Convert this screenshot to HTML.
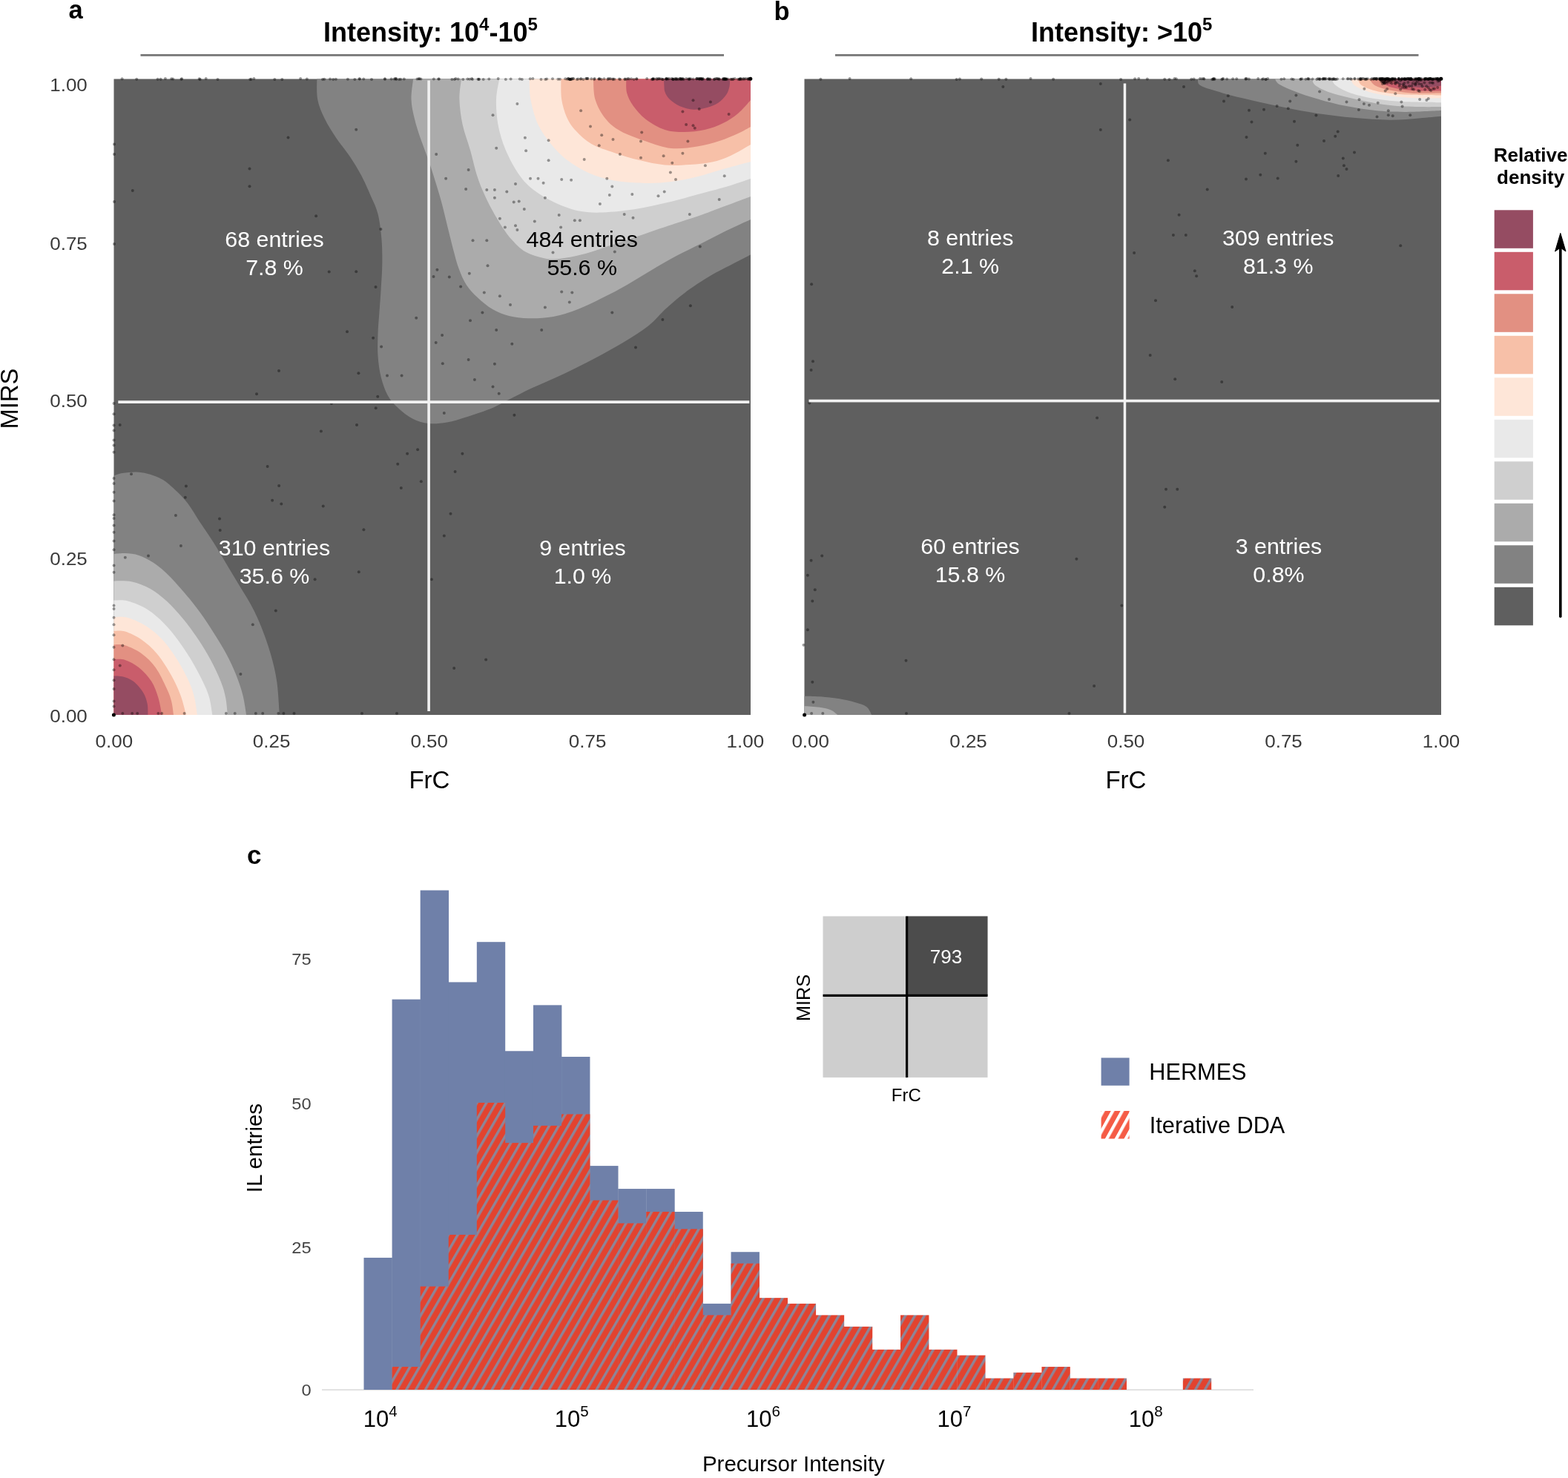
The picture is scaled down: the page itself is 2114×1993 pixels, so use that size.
<!DOCTYPE html>
<html><head><meta charset="utf-8"><title>Figure</title>
<style>html,body{margin:0;padding:0;background:#fff;}svg{display:block;}
text{font-family:'Liberation Sans',Arial,Helvetica,sans-serif;}</style></head>
<body><svg width="2114" height="1993" viewBox="0 0 2114 1993">
<defs>
<pattern id="hatch" patternUnits="userSpaceOnUse" width="11.1" height="11.1" patternTransform="rotate(30)">
<rect width="11.1" height="11.1" fill="#e2432f"/><rect x="0" width="3.4" height="11.1" fill="#8e8597"/>
</pattern>
<pattern id="hatchleg" patternUnits="userSpaceOnUse" width="11.2" height="11.2" patternTransform="translate(1485,1498) rotate(29)">
<rect width="11.2" height="11.2" fill="#f55c46"/><rect x="0" width="4.2" height="11.2" fill="#fff"/>
</pattern>
</defs>
<rect width="2114" height="1993" fill="#fff"/>
<rect x="153.5" y="106.5" width="858.5" height="857.5" fill="#5f5f5f"/>
<path d="M427.3,106.5 C427.4,111.1 426.5,125.3 428.2,134.2 C429.9,143.1 433.5,151.3 437.6,159.8 C441.7,168.3 447.2,176.9 452.9,185.4 C458.6,193.9 466.0,202.5 471.7,211.0 C477.4,219.5 482.6,228.1 487.1,236.6 C491.7,245.1 495.3,253.7 499.0,262.2 C502.7,270.7 506.7,277.8 509.3,287.8 C511.9,297.8 513.4,310.6 514.4,322.0 C515.4,333.4 515.4,344.7 515.3,356.1 C515.2,367.5 514.2,379.7 513.6,390.3 C513.0,400.9 512.2,410.1 511.5,420.0 C510.8,429.9 509.8,440.0 509.5,450.0 C509.2,460.0 508.8,470.2 509.5,480.0 C510.2,489.8 511.5,500.0 513.8,509.0 C516.1,518.0 519.3,527.1 523.2,534.0 C527.1,540.9 531.6,545.3 537.2,550.5 C542.8,555.7 550.2,561.6 557.0,565.0 C563.8,568.4 570.2,570.2 577.8,571.0 C585.4,571.8 594.0,571.0 602.7,569.5 C611.4,568.0 619.8,565.3 630.0,562.0 C640.2,558.7 654.7,553.8 664.1,549.9 C673.5,546.0 677.4,543.2 686.2,538.8 C695.1,534.4 705.4,528.8 717.2,523.3 C729.0,517.8 743.1,512.2 757.1,505.6 C771.1,499.0 787.3,490.9 801.3,483.5 C815.3,476.1 829.0,468.7 841.2,461.3 C853.4,453.9 864.9,446.8 874.4,439.2 C883.9,431.6 889.9,423.4 898.0,416.0 C906.1,408.6 913.4,402.1 923.1,394.9 C932.8,387.7 945.2,379.4 956.3,372.8 C967.4,366.2 980.2,360.0 989.5,355.1 C998.8,350.2 1008.2,345.4 1012.0,343.5 L1012.0,106.5 Z" fill="#828282"/>
<path d="M557.1,106.5 C556.7,111.1 554.2,125.3 554.5,134.2 C554.8,143.1 556.8,151.3 558.8,159.8 C560.8,168.3 563.6,176.9 566.5,185.4 C569.4,193.9 572.9,202.5 575.9,211.0 C578.9,219.5 581.3,226.6 584.4,236.6 C587.5,246.6 591.6,259.4 594.7,270.8 C597.8,282.2 600.5,293.9 603.2,304.9 C606.0,315.9 608.7,327.5 611.2,337.0 C613.8,346.5 615.6,354.2 618.5,362.0 C621.4,369.8 624.4,377.3 628.7,383.9 C633.0,390.5 638.3,396.1 644.2,401.6 C650.1,407.1 657.1,413.1 664.1,417.1 C671.1,421.2 678.1,423.9 686.2,425.9 C694.3,427.9 702.8,429.0 712.8,429.2 C722.8,429.4 734.9,429.0 746.0,427.0 C757.1,425.0 768.1,421.3 779.2,417.1 C790.3,412.9 801.3,407.1 812.4,401.6 C823.5,396.1 834.5,390.2 845.6,383.9 C856.7,377.6 867.7,370.5 878.8,364.0 C889.9,357.5 900.9,350.9 912.0,345.0 C923.1,339.1 934.1,334.1 945.2,328.5 C956.3,322.9 967.3,316.9 978.4,311.5 C989.5,306.1 1006.4,298.6 1012.0,296.0 L1012.0,106.5 Z" fill="#ababab"/>
<path d="M622.0,106.5 C621.6,111.1 619.1,123.9 619.4,134.2 C619.7,144.5 621.3,156.9 623.7,168.3 C626.1,179.7 630.7,190.9 634.0,202.5 C637.3,214.1 640.3,228.1 643.5,238.0 C646.7,247.9 649.6,254.3 653.0,262.0 C656.4,269.7 660.0,276.9 664.1,284.3 C668.2,291.7 673.0,299.8 677.4,306.4 C681.8,313.0 685.5,318.6 690.7,324.1 C695.9,329.6 701.0,335.5 708.4,339.6 C715.8,343.7 726.8,347.0 734.9,348.5 C743.0,350.0 747.9,349.6 757.1,348.5 C766.3,347.4 779.2,344.8 790.3,341.8 C801.4,338.8 812.4,334.4 823.5,330.7 C834.6,327.0 843.8,324.1 856.7,319.7 C869.6,315.3 886.1,309.4 900.9,304.5 C915.6,299.6 932.3,294.5 945.2,290.0 C958.1,285.5 967.3,281.8 978.4,277.6 C989.5,273.4 1006.4,267.1 1012.0,265.0 L1012.0,106.5 Z" fill="#cfcfcf"/>
<path d="M673.2,106.5 C672.5,111.1 669.3,123.9 669.0,134.2 C668.7,144.5 669.4,156.9 671.5,168.3 C673.6,179.7 677.0,191.1 681.8,202.5 C686.6,213.9 694.1,227.6 700.5,236.6 C706.9,245.6 712.0,250.4 720.0,256.5 C728.0,262.6 738.3,268.6 748.2,273.2 C758.1,277.8 768.5,282.1 779.2,284.3 C789.9,286.5 799.5,286.9 812.4,286.5 C825.3,286.1 842.0,284.4 856.7,282.1 C871.5,279.8 886.1,276.3 900.9,272.8 C915.6,269.3 932.3,264.5 945.2,261.0 C958.1,257.5 967.3,255.3 978.4,252.0 C989.5,248.7 1006.4,242.8 1012.0,241.0 L1012.0,106.5 Z" fill="#e9e9e9"/>
<path d="M713.7,106.5 C714.0,111.1 713.4,123.9 715.4,134.2 C717.4,144.5 721.0,158.4 725.6,168.3 C730.2,178.2 736.2,185.9 742.7,193.9 C749.2,201.9 756.4,209.6 764.9,216.1 C773.4,222.6 783.4,228.6 793.9,233.2 C804.4,237.8 815.3,241.1 828.1,243.4 C840.9,245.7 858.0,246.6 870.8,246.9 C883.6,247.2 893.5,246.4 904.9,245.0 C916.3,243.6 928.1,241.1 939.0,238.5 C949.9,235.9 957.8,232.9 970.0,229.5 C982.2,226.1 1005.0,219.9 1012.0,218.0 L1012.0,106.5 Z" fill="#fee6d8"/>
<path d="M756.4,106.5 C756.5,111.1 755.8,125.3 757.2,134.2 C758.6,143.1 761.6,152.7 764.9,159.8 C768.2,166.9 771.4,171.1 776.8,176.8 C782.2,182.5 788.8,189.1 797.3,193.9 C805.8,198.8 817.3,202.2 828.1,205.9 C838.9,209.6 850.8,213.3 862.2,216.1 C873.6,218.9 885.1,221.5 896.4,222.5 C907.7,223.5 919.4,222.7 930.0,222.0 C940.6,221.3 950.8,220.5 960.0,218.5 C969.2,216.5 976.3,213.9 985.0,210.0 C993.7,206.1 1007.5,197.5 1012.0,195.0 L1012.0,106.5 Z" fill="#f7c0a8"/>
<path d="M799.9,106.5 C800.3,111.1 799.8,125.3 802.5,134.2 C805.2,143.1 810.4,152.7 816.1,159.8 C821.8,166.9 827.5,171.7 836.6,176.8 C845.7,181.9 859.4,186.6 870.8,190.5 C882.2,194.4 893.4,198.8 904.9,200.0 C916.4,201.2 929.1,199.2 940.0,197.5 C950.9,195.8 960.8,192.9 970.0,190.0 C979.2,187.1 988.0,183.2 995.0,180.0 C1002.0,176.8 1009.2,172.5 1012.0,171.0 L1012.0,106.5 Z" fill="#e29082"/>
<path d="M844.3,106.5 C844.4,109.7 843.6,119.6 845.2,125.6 C846.8,131.6 849.4,136.8 853.7,142.7 C858.0,148.6 863.7,155.6 870.8,161.0 C877.9,166.4 887.9,172.2 896.4,175.0 C904.9,177.8 913.1,178.0 922.0,178.0 C930.9,178.0 941.2,177.0 950.0,175.0 C958.8,173.0 967.5,169.7 975.0,166.0 C982.5,162.3 988.8,158.2 995.0,153.0 C1001.2,147.8 1009.2,138.0 1012.0,135.0 L1012.0,106.5 Z" fill="#c95d6b"/>
<path d="M895.1,106.5 C895.1,107.9 895.2,112.1 895.4,115.0 C895.6,117.9 895.3,120.9 896.5,124.0 C897.7,127.1 899.3,130.6 902.7,133.8 C906.1,137.0 911.4,141.0 916.8,143.3 C922.2,145.6 929.0,147.4 935.1,147.7 C941.2,148.0 947.9,146.5 953.5,145.0 C959.1,143.5 964.3,141.4 968.6,138.5 C972.9,135.6 976.8,131.3 979.3,127.6 C981.8,123.8 982.9,119.5 983.6,116.0 C984.4,112.5 983.8,108.1 983.8,106.5 Z" fill="#954c62"/>
<path d="M153.5,641.5 C155.4,640.9 160.0,638.8 165.0,638.0 C170.0,637.2 178.0,636.4 183.6,636.5 C189.2,636.6 193.4,637.4 198.6,638.7 C203.8,640.0 210.0,642.0 215.0,644.5 C220.0,647.0 222.4,648.4 228.4,653.6 C234.4,658.9 244.1,667.6 250.9,676.0 C257.8,684.4 263.3,694.6 269.5,704.0 C275.7,713.4 282.3,722.8 288.2,732.1 C294.1,741.5 299.4,750.8 305.0,760.1 C310.6,769.4 316.2,778.8 321.8,788.1 C327.4,797.4 333.6,806.8 338.6,816.1 C343.6,825.4 347.3,833.2 351.7,844.1 C356.1,855.0 361.2,869.0 364.8,881.5 C368.4,894.0 371.2,905.0 373.2,918.8 C375.2,932.5 376.3,956.5 376.9,964.0 L153.5,964.0 Z" fill="#828282"/>
<path d="M153.5,747.0 C156.0,746.9 163.0,745.8 168.7,746.1 C174.3,746.4 181.2,746.9 187.4,748.9 C193.6,750.9 199.8,754.2 206.0,758.2 C212.2,762.2 217.8,766.7 224.7,773.2 C231.5,779.7 239.6,788.7 247.1,797.4 C254.6,806.1 262.6,816.1 269.5,825.5 C276.4,834.9 282.3,844.2 288.2,853.5 C294.1,862.8 300.0,872.2 305.0,881.5 C310.0,890.8 314.4,900.2 318.1,909.5 C321.8,918.8 325.1,928.4 327.4,937.5 C329.7,946.6 331.3,959.6 332.1,964.0 L153.5,964.0 Z" fill="#ababab"/>
<path d="M153.5,783.4 C157.6,783.6 169.9,782.7 178.0,784.4 C186.1,786.1 194.5,789.4 202.3,793.7 C210.1,798.1 217.2,803.6 224.7,810.5 C232.2,817.4 239.9,826.1 247.1,834.8 C254.3,843.5 261.5,853.5 267.7,862.8 C273.9,872.1 279.5,881.5 284.5,890.8 C289.5,900.1 294.4,910.6 297.6,918.8 C300.9,927.0 302.4,932.5 304.0,940.0 C305.6,947.5 306.4,960.0 306.9,964.0 L153.5,964.0 Z" fill="#cfcfcf"/>
<path d="M153.5,809.6 C156.7,809.8 164.9,808.5 172.4,810.5 C179.9,812.5 190.5,816.7 198.6,821.7 C206.7,826.7 214.2,833.5 221.0,840.4 C227.8,847.2 233.5,854.4 239.7,862.8 C245.9,871.2 252.7,881.5 258.3,890.8 C263.9,900.1 269.4,910.6 273.3,918.8 C277.2,927.0 279.8,932.5 282.0,940.0 C284.2,947.5 285.6,960.0 286.3,964.0 L153.5,964.0 Z" fill="#e9e9e9"/>
<path d="M153.5,832.0 C156.7,832.1 165.2,830.9 172.4,832.9 C179.6,834.9 188.9,839.1 196.7,844.1 C204.5,849.1 211.9,855.0 219.1,862.8 C226.3,870.6 233.8,881.5 239.7,890.8 C245.6,900.1 250.9,910.6 254.6,918.8 C258.3,927.0 260.1,932.5 262.0,940.0 C263.9,947.5 265.2,960.0 265.8,964.0 L153.5,964.0 Z" fill="#fee6d8"/>
<path d="M153.5,850.7 C156.0,850.9 162.4,849.6 168.7,851.6 C175.0,853.6 183.9,857.8 191.1,862.8 C198.2,867.8 205.1,873.7 211.6,881.5 C218.1,889.3 225.0,900.2 230.3,909.5 C235.6,918.8 240.0,928.4 243.4,937.5 C246.8,946.6 249.7,959.6 250.9,964.0 L153.5,964.0 Z" fill="#f7c0a8"/>
<path d="M153.5,869.3 C156.0,869.5 162.4,868.3 168.7,870.3 C175.0,872.3 184.2,876.5 191.1,881.5 C197.9,886.5 204.2,892.4 209.8,900.2 C215.4,908.0 221.2,920.7 224.7,928.2 C228.2,935.7 229.4,939.0 231.0,945.0 C232.6,951.0 233.5,960.8 234.0,964.0 L153.5,964.0 Z" fill="#e29082"/>
<path d="M153.5,889.0 C156.0,889.1 163.0,888.0 168.7,889.9 C174.3,891.8 181.5,895.4 187.4,900.2 C193.3,905.0 199.8,911.9 204.2,918.8 C208.5,925.6 211.2,933.8 213.5,941.3 C215.8,948.8 217.4,960.2 218.2,964.0 L153.5,964.0 Z" fill="#c95d6b"/>
<path d="M153.5,911.4 C155.4,911.5 160.6,911.1 165.0,912.3 C169.4,913.5 175.2,915.2 179.9,918.8 C184.6,922.4 189.9,928.8 193.0,933.8 C196.1,938.8 197.5,943.7 198.6,948.7 C199.7,953.7 199.3,961.5 199.5,964.0 L153.5,964.0 Z" fill="#954c62"/>
<rect x="1084.5" y="106.5" width="858.5" height="857.5" fill="#5f5f5f"/>
<path d="M1614.9,106.5 C1615.6,108.0 1613.3,112.4 1618.9,115.6 C1624.5,118.8 1636.9,122.1 1648.3,125.4 C1659.7,128.7 1673.5,131.9 1687.5,135.2 C1701.5,138.5 1717.9,142.1 1732.6,145.0 C1747.3,147.9 1760.4,150.6 1775.8,152.9 C1791.2,155.2 1808.6,157.3 1824.9,158.8 C1841.2,160.3 1859.2,161.6 1873.9,161.7 C1888.6,161.8 1901.7,160.3 1913.2,159.5 C1924.7,158.7 1938.0,157.2 1943.0,156.8 L1943.0,106.5 Z" fill="#828282"/>
<path d="M1718.9,106.5 C1719.9,107.7 1720.2,110.9 1724.8,113.7 C1729.4,116.5 1737.9,120.2 1746.4,123.5 C1754.9,126.8 1764.3,130.0 1775.8,133.3 C1787.2,136.6 1802.0,140.5 1815.1,143.1 C1828.2,145.7 1841.2,147.7 1854.3,149.0 C1867.4,150.3 1878.7,150.9 1893.5,150.9 C1908.3,150.9 1934.8,149.3 1943.0,149.0 L1943.0,106.5 Z" fill="#ababab"/>
<path d="M1769.0,106.5 C1769.8,108.0 1769.5,112.4 1773.9,115.6 C1778.3,118.8 1785.3,122.1 1795.4,125.4 C1805.5,128.7 1821.6,132.4 1834.7,135.2 C1847.8,138.0 1860.8,140.6 1873.9,142.1 C1887.0,143.6 1901.7,143.8 1913.2,144.1 C1924.7,144.4 1938.0,144.1 1943.0,144.1 L1943.0,106.5 Z" fill="#cfcfcf"/>
<path d="M1795.4,106.5 C1796.4,108.0 1797.0,112.4 1801.3,115.6 C1805.5,118.8 1812.1,122.5 1820.9,125.4 C1829.7,128.4 1842.2,131.3 1854.3,133.3 C1866.4,135.3 1878.7,136.4 1893.5,137.2 C1908.3,138.0 1934.8,138.0 1943.0,138.2 L1943.0,106.5 Z" fill="#e9e9e9"/>
<path d="M1820.9,106.5 C1821.9,108.0 1822.9,112.8 1826.8,115.6 C1830.7,118.4 1836.7,121.2 1844.5,123.5 C1852.3,125.8 1862.5,127.9 1873.9,129.4 C1885.4,130.9 1901.7,131.8 1913.2,132.3 C1924.7,132.8 1938.0,132.3 1943.0,132.3 L1943.0,106.5 Z" fill="#fee6d8"/>
<path d="M1830.7,106.5 C1831.7,108.0 1832.0,112.8 1836.6,115.6 C1841.2,118.4 1848.7,121.5 1858.2,123.5 C1867.7,125.5 1879.4,126.6 1893.5,127.4 C1907.6,128.2 1934.8,128.2 1943.0,128.4 L1943.0,106.5 Z" fill="#f7c0a8"/>
<path d="M1846.4,106.5 C1847.7,108.0 1849.7,113.1 1854.3,115.6 C1858.9,118.1 1865.7,119.9 1873.9,121.5 C1882.1,123.1 1891.8,124.8 1903.3,125.4 C1914.8,126.1 1936.4,125.4 1943.0,125.4 L1943.0,106.5 Z" fill="#e29082"/>
<path d="M1860.2,106.5 C1861.2,107.7 1862.2,111.5 1866.1,113.7 C1870.0,115.9 1875.8,118.0 1883.7,119.5 C1891.6,121.0 1903.3,122.0 1913.2,122.5 C1923.1,123.0 1938.0,122.5 1943.0,122.5 L1943.0,106.5 Z" fill="#c95d6b"/>
<path d="M1877.8,106.5 C1879.1,107.7 1881.5,111.9 1885.7,113.7 C1890.0,115.5 1896.1,116.9 1903.3,117.6 C1910.5,118.2 1922.3,117.9 1928.9,117.6 C1935.5,117.3 1940.7,115.9 1943.0,115.6 L1943.0,106.5 Z" fill="#954c62"/>
<path d="M1084.5,938.7 C1088.0,938.8 1096.7,938.6 1105.2,939.3 C1113.7,940.0 1127.4,941.6 1135.4,942.9 C1143.5,944.2 1148.0,945.5 1153.5,947.2 C1159.0,948.9 1164.9,950.4 1168.5,953.2 C1172.1,956.0 1174.1,962.2 1175.2,964.0 L1084.5,964.0 Z" fill="#828282"/>
<path d="M1084.5,952.0 C1088.0,952.3 1099.2,952.9 1105.2,953.8 C1111.2,954.7 1116.3,955.7 1120.3,957.4 C1124.3,959.1 1127.8,962.9 1129.3,964.0 L1084.5,964.0 Z" fill="#ababab"/>
<g fill="#000" fill-opacity="0.38">
<circle cx="388.5" cy="185.6" r="2.0"/>
<circle cx="336.5" cy="227.6" r="2.0"/>
<circle cx="336.5" cy="251.3" r="2.0"/>
<circle cx="178.8" cy="256.9" r="2.0"/>
<circle cx="426.1" cy="291.3" r="2.0"/>
<circle cx="443.7" cy="366.5" r="2.0"/>
<circle cx="154.0" cy="194.4" r="2.0"/>
<circle cx="154.0" cy="208.1" r="2.0"/>
<circle cx="154.0" cy="272.1" r="2.0"/>
<circle cx="154.0" cy="328.9" r="2.0"/>
<circle cx="480.2" cy="174.8" r="2.0"/>
<circle cx="513.4" cy="309.1" r="2.0"/>
<circle cx="480.2" cy="366.3" r="2.0"/>
<circle cx="506.5" cy="387.1" r="2.0"/>
<circle cx="561.2" cy="428.8" r="2.0"/>
<circle cx="468.0" cy="447.2" r="2.0"/>
<circle cx="503.1" cy="455.8" r="2.0"/>
<circle cx="514.1" cy="467.4" r="2.0"/>
<circle cx="376.0" cy="500.0" r="2.0"/>
<circle cx="483.4" cy="503.2" r="2.0"/>
<circle cx="522.0" cy="506.6" r="2.0"/>
<circle cx="541.6" cy="506.6" r="2.0"/>
<circle cx="509.2" cy="534.8" r="2.0"/>
<circle cx="506.7" cy="550.3" r="2.0"/>
<circle cx="588.2" cy="208.0" r="2.0"/>
<circle cx="589.4" cy="363.8" r="2.0"/>
<circle cx="584.5" cy="372.9" r="2.0"/>
<circle cx="596.1" cy="452.1" r="2.0"/>
<circle cx="587.7" cy="462.0" r="2.0"/>
<circle cx="596.8" cy="490.2" r="2.0"/>
<circle cx="697.4" cy="139.9" r="2.0"/>
<circle cx="664.5" cy="155.2" r="2.0"/>
<circle cx="783.1" cy="149.3" r="2.0"/>
<circle cx="796.0" cy="170.4" r="2.0"/>
<circle cx="934.5" cy="135.2" r="2.0"/>
<circle cx="957.9" cy="137.6" r="2.0"/>
<circle cx="920.4" cy="150.5" r="2.0"/>
<circle cx="942.7" cy="146.9" r="2.0"/>
<circle cx="982.6" cy="154.0" r="2.0"/>
<circle cx="925.1" cy="168.1" r="2.0"/>
<circle cx="934.5" cy="169.2" r="2.0"/>
<circle cx="936.8" cy="172.8" r="2.0"/>
<circle cx="865.2" cy="178.6" r="2.0"/>
<circle cx="811.2" cy="182.2" r="2.0"/>
<circle cx="826.5" cy="188.0" r="2.0"/>
<circle cx="739.6" cy="189.2" r="2.0"/>
<circle cx="707.9" cy="185.7" r="2.0"/>
<circle cx="864.0" cy="190.4" r="2.0"/>
<circle cx="927.4" cy="190.4" r="2.0"/>
<circle cx="807.7" cy="196.2" r="2.0"/>
<circle cx="669.2" cy="199.8" r="2.0"/>
<circle cx="709.1" cy="203.3" r="2.0"/>
<circle cx="835.9" cy="208.0" r="2.0"/>
<circle cx="920.4" cy="206.8" r="2.0"/>
<circle cx="864.0" cy="212.7" r="2.0"/>
<circle cx="787.7" cy="215.0" r="2.0"/>
<circle cx="894.6" cy="210.3" r="2.0"/>
<circle cx="906.3" cy="219.7" r="2.0"/>
<circle cx="950.9" cy="223.2" r="2.0"/>
<circle cx="739.6" cy="216.2" r="2.0"/>
<circle cx="631.6" cy="229.1" r="2.0"/>
<circle cx="601.1" cy="240.8" r="2.0"/>
<circle cx="715.0" cy="240.8" r="2.0"/>
<circle cx="725.5" cy="240.8" r="2.0"/>
<circle cx="732.6" cy="246.7" r="2.0"/>
<circle cx="757.2" cy="242.0" r="2.0"/>
<circle cx="770.1" cy="242.7" r="2.0"/>
<circle cx="818.3" cy="240.8" r="2.0"/>
<circle cx="903.9" cy="232.6" r="2.0"/>
<circle cx="911.0" cy="242.0" r="2.0"/>
<circle cx="976.7" cy="237.3" r="2.0"/>
<circle cx="695.0" cy="247.9" r="2.0"/>
<circle cx="628.1" cy="254.9" r="2.0"/>
<circle cx="656.3" cy="256.1" r="2.0"/>
<circle cx="666.9" cy="256.1" r="2.0"/>
<circle cx="683.3" cy="258.5" r="2.0"/>
<circle cx="825.3" cy="251.4" r="2.0"/>
<circle cx="734.9" cy="266.7" r="2.0"/>
<circle cx="666.9" cy="266.7" r="2.0"/>
<circle cx="692.7" cy="272.5" r="2.0"/>
<circle cx="699.7" cy="271.4" r="2.0"/>
<circle cx="821.8" cy="263.1" r="2.0"/>
<circle cx="852.3" cy="262.0" r="2.0"/>
<circle cx="887.5" cy="264.3" r="2.0"/>
<circle cx="895.7" cy="258.5" r="2.0"/>
<circle cx="969.7" cy="269.0" r="2.0"/>
<circle cx="808.9" cy="274.9" r="2.0"/>
<circle cx="706.8" cy="281.9" r="2.0"/>
<circle cx="753.7" cy="290.1" r="2.0"/>
<circle cx="774.8" cy="297.2" r="2.0"/>
<circle cx="781.9" cy="297.2" r="2.0"/>
<circle cx="841.7" cy="289.0" r="2.0"/>
<circle cx="853.5" cy="293.7" r="2.0"/>
<circle cx="929.8" cy="289.0" r="2.0"/>
<circle cx="673.9" cy="294.8" r="2.0"/>
<circle cx="720.8" cy="298.4" r="2.0"/>
<circle cx="680.9" cy="306.6" r="2.0"/>
<circle cx="695.0" cy="304.2" r="2.0"/>
<circle cx="697.4" cy="310.1" r="2.0"/>
<circle cx="756.1" cy="306.6" r="2.0"/>
<circle cx="637.5" cy="324.2" r="2.0"/>
<circle cx="656.3" cy="324.2" r="2.0"/>
<circle cx="745.5" cy="340.6" r="2.0"/>
<circle cx="828.8" cy="339.4" r="2.0"/>
<circle cx="943.8" cy="332.4" r="2.0"/>
<circle cx="657.5" cy="358.2" r="2.0"/>
<circle cx="632.8" cy="368.8" r="2.0"/>
<circle cx="605.8" cy="373.5" r="2.0"/>
<circle cx="621.1" cy="386.4" r="2.0"/>
<circle cx="652.8" cy="394.6" r="2.0"/>
<circle cx="673.9" cy="399.3" r="2.0"/>
<circle cx="757.2" cy="393.4" r="2.0"/>
<circle cx="771.3" cy="394.6" r="2.0"/>
<circle cx="767.8" cy="407.5" r="2.0"/>
<circle cx="688.0" cy="411.0" r="2.0"/>
<circle cx="734.9" cy="414.6" r="2.0"/>
<circle cx="650.4" cy="421.6" r="2.0"/>
<circle cx="825.3" cy="421.6" r="2.0"/>
<circle cx="930.9" cy="412.2" r="2.0"/>
<circle cx="634.0" cy="432.2" r="2.0"/>
<circle cx="669.2" cy="445.1" r="2.0"/>
<circle cx="730.2" cy="445.1" r="2.0"/>
<circle cx="893.4" cy="431.0" r="2.0"/>
<circle cx="690.3" cy="463.8" r="2.0"/>
<circle cx="857.0" cy="468.5" r="2.0"/>
<circle cx="631.6" cy="485.0" r="2.0"/>
<circle cx="666.9" cy="490.8" r="2.0"/>
<circle cx="639.9" cy="512.0" r="2.0"/>
<circle cx="664.5" cy="521.4" r="2.0"/>
<circle cx="672.7" cy="530.8" r="2.0"/>
<circle cx="346.0" cy="531.2" r="2.0"/>
<circle cx="481.0" cy="573.0" r="2.0"/>
<circle cx="432.9" cy="581.6" r="2.0"/>
<circle cx="161.7" cy="573.0" r="2.0"/>
<circle cx="563.1" cy="606.3" r="2.0"/>
<circle cx="549.1" cy="611.7" r="2.0"/>
<circle cx="536.2" cy="625.8" r="2.0"/>
<circle cx="360.6" cy="629.1" r="2.0"/>
<circle cx="250.9" cy="655.6" r="2.0"/>
<circle cx="376.1" cy="655.1" r="2.0"/>
<circle cx="567.8" cy="649.2" r="2.0"/>
<circle cx="540.8" cy="657.9" r="2.0"/>
<circle cx="249.8" cy="670.8" r="2.0"/>
<circle cx="367.1" cy="674.8" r="2.0"/>
<circle cx="379.3" cy="679.5" r="2.0"/>
<circle cx="435.7" cy="682.6" r="2.0"/>
<circle cx="236.9" cy="695.0" r="2.0"/>
<circle cx="296.0" cy="699.5" r="2.0"/>
<circle cx="296.7" cy="715.0" r="2.0"/>
<circle cx="490.4" cy="714.3" r="2.0"/>
<circle cx="243.9" cy="735.9" r="2.0"/>
<circle cx="177.0" cy="639.2" r="2.0"/>
<circle cx="168.8" cy="751.8" r="2.0"/>
<circle cx="200.0" cy="749.5" r="2.0"/>
<circle cx="483.8" cy="771.3" r="2.0"/>
<circle cx="424.6" cy="781.2" r="2.0"/>
<circle cx="581.9" cy="781.2" r="2.0"/>
<circle cx="371.8" cy="823.4" r="2.0"/>
<circle cx="340.8" cy="842.2" r="2.0"/>
<circle cx="165.3" cy="870.4" r="2.0"/>
<circle cx="161.7" cy="897.4" r="2.0"/>
<circle cx="324.4" cy="909.1" r="2.0"/>
<circle cx="446.9" cy="544.1" r="2.0"/>
<circle cx="153.5" cy="544.1" r="2.0"/>
<circle cx="153.5" cy="558.2" r="2.0"/>
<circle cx="153.5" cy="573.4" r="2.0"/>
<circle cx="153.5" cy="580.5" r="2.0"/>
<circle cx="153.5" cy="593.4" r="2.0"/>
<circle cx="153.5" cy="600.4" r="2.0"/>
<circle cx="153.5" cy="609.8" r="2.0"/>
<circle cx="153.5" cy="645.0" r="2.0"/>
<circle cx="153.5" cy="652.1" r="2.0"/>
<circle cx="153.5" cy="663.8" r="2.0"/>
<circle cx="153.5" cy="675.5" r="2.0"/>
<circle cx="153.5" cy="694.3" r="2.0"/>
<circle cx="153.5" cy="699.0" r="2.0"/>
<circle cx="153.5" cy="708.4" r="2.0"/>
<circle cx="153.5" cy="717.8" r="2.0"/>
<circle cx="153.5" cy="729.5" r="2.0"/>
<circle cx="153.5" cy="741.3" r="2.0"/>
<circle cx="153.5" cy="762.4" r="2.0"/>
<circle cx="153.5" cy="771.8" r="2.0"/>
<circle cx="153.5" cy="816.4" r="2.0"/>
<circle cx="153.5" cy="821.1" r="2.0"/>
<circle cx="153.5" cy="832.8" r="2.0"/>
<circle cx="153.5" cy="842.2" r="2.0"/>
<circle cx="153.5" cy="856.3" r="2.0"/>
<circle cx="153.5" cy="872.7" r="2.0"/>
<circle cx="153.5" cy="889.2" r="2.0"/>
<circle cx="153.5" cy="903.2" r="2.0"/>
<circle cx="153.5" cy="917.3" r="2.0"/>
<circle cx="153.5" cy="929.1" r="2.0"/>
<circle cx="153.5" cy="945.5" r="2.0"/>
<circle cx="153.5" cy="952.5" r="2.0"/>
<circle cx="165.3" cy="961.9" r="2.0"/>
<circle cx="178.2" cy="961.9" r="2.0"/>
<circle cx="185.2" cy="961.9" r="2.0"/>
<circle cx="213.4" cy="961.9" r="2.0"/>
<circle cx="218.1" cy="961.9" r="2.0"/>
<circle cx="248.6" cy="961.9" r="2.0"/>
<circle cx="304.9" cy="961.9" r="2.0"/>
<circle cx="316.7" cy="961.9" r="2.0"/>
<circle cx="344.8" cy="961.9" r="2.0"/>
<circle cx="354.2" cy="961.9" r="2.0"/>
<circle cx="375.4" cy="961.9" r="2.0"/>
<circle cx="382.4" cy="961.9" r="2.0"/>
<circle cx="396.5" cy="961.9" r="2.0"/>
<circle cx="488.0" cy="961.9" r="2.0"/>
<circle cx="535.0" cy="961.9" r="2.0"/>
<circle cx="598.8" cy="557.0" r="2.0"/>
<circle cx="693.4" cy="559.8" r="2.0"/>
<circle cx="623.4" cy="611.7" r="2.0"/>
<circle cx="613.6" cy="636.1" r="2.0"/>
<circle cx="607.5" cy="692.7" r="2.0"/>
<circle cx="598.8" cy="722.5" r="2.0"/>
<circle cx="655.1" cy="889.6" r="2.0"/>
<circle cx="612.2" cy="900.9" r="2.0"/>
<circle cx="1352.3" cy="116.9" r="2.0"/>
<circle cx="1483.8" cy="112.9" r="2.0"/>
<circle cx="1483.8" cy="175.1" r="2.0"/>
<circle cx="1094.1" cy="383.3" r="2.0"/>
<circle cx="1096.0" cy="487.3" r="2.0"/>
<circle cx="1093.6" cy="499.1" r="2.0"/>
<circle cx="1596.0" cy="116.9" r="2.0"/>
<circle cx="1655.8" cy="129.3" r="2.0"/>
<circle cx="1650.0" cy="136.4" r="2.0"/>
<circle cx="1684.0" cy="148.8" r="2.0"/>
<circle cx="1704.0" cy="147.7" r="2.0"/>
<circle cx="1721.6" cy="143.0" r="2.0"/>
<circle cx="1736.8" cy="146.2" r="2.0"/>
<circle cx="1739.2" cy="136.4" r="2.0"/>
<circle cx="1747.4" cy="128.6" r="2.0"/>
<circle cx="1774.4" cy="155.6" r="2.0"/>
<circle cx="1687.5" cy="164.6" r="2.0"/>
<circle cx="1745.0" cy="163.8" r="2.0"/>
<circle cx="1523.2" cy="161.5" r="2.0"/>
<circle cx="1803.7" cy="177.5" r="2.0"/>
<circle cx="1800.2" cy="183.8" r="2.0"/>
<circle cx="1785.0" cy="189.9" r="2.0"/>
<circle cx="1680.5" cy="185.0" r="2.0"/>
<circle cx="1749.3" cy="195.8" r="2.0"/>
<circle cx="1705.8" cy="206.8" r="2.0"/>
<circle cx="1826.0" cy="205.6" r="2.0"/>
<circle cx="1574.9" cy="216.2" r="2.0"/>
<circle cx="1747.4" cy="217.8" r="2.0"/>
<circle cx="1810.8" cy="213.4" r="2.0"/>
<circle cx="1811.9" cy="223.2" r="2.0"/>
<circle cx="1815.5" cy="227.9" r="2.0"/>
<circle cx="1804.2" cy="236.9" r="2.0"/>
<circle cx="1699.3" cy="235.7" r="2.0"/>
<circle cx="1722.7" cy="240.4" r="2.0"/>
<circle cx="1680.0" cy="241.5" r="2.0"/>
<circle cx="1627.7" cy="255.4" r="2.0"/>
<circle cx="1589.6" cy="289.7" r="2.0"/>
<circle cx="1581.9" cy="317.1" r="2.0"/>
<circle cx="1598.8" cy="317.1" r="2.0"/>
<circle cx="1529.1" cy="341.1" r="2.0"/>
<circle cx="1888.2" cy="331.2" r="2.0"/>
<circle cx="1610.8" cy="365.3" r="2.0"/>
<circle cx="1613.1" cy="372.3" r="2.0"/>
<circle cx="1558.0" cy="405.2" r="2.0"/>
<circle cx="1661.2" cy="414.1" r="2.0"/>
<circle cx="1550.7" cy="479.1" r="2.0"/>
<circle cx="1584.2" cy="511.3" r="2.0"/>
<circle cx="1647.2" cy="515.0" r="2.0"/>
<circle cx="1779.1" cy="123.5" r="2.0"/>
<circle cx="1792.0" cy="134.0" r="2.0"/>
<circle cx="1831.9" cy="148.1" r="2.0"/>
<circle cx="1856.5" cy="157.5" r="2.0"/>
<circle cx="1871.8" cy="155.2" r="2.0"/>
<circle cx="1877.7" cy="156.3" r="2.0"/>
<circle cx="1901.2" cy="155.2" r="2.0"/>
<circle cx="1890.6" cy="143.4" r="2.0"/>
<circle cx="1815.5" cy="137.6" r="2.0"/>
<circle cx="1838.9" cy="139.9" r="2.0"/>
<circle cx="1846.0" cy="141.8" r="2.0"/>
<circle cx="1857.7" cy="138.7" r="2.0"/>
<circle cx="1871.8" cy="149.3" r="2.0"/>
<circle cx="1889.4" cy="137.6" r="2.0"/>
<circle cx="1914.1" cy="134.0" r="2.0"/>
<circle cx="1925.8" cy="132.9" r="2.0"/>
<circle cx="1091.3" cy="543.6" r="2.0"/>
<circle cx="1479.1" cy="563.6" r="2.0"/>
<circle cx="1108.2" cy="749.5" r="2.0"/>
<circle cx="1093.6" cy="755.8" r="2.0"/>
<circle cx="1088.9" cy="775.8" r="2.0"/>
<circle cx="1098.8" cy="795.3" r="2.0"/>
<circle cx="1095.3" cy="810.5" r="2.0"/>
<circle cx="1088.9" cy="849.2" r="2.0"/>
<circle cx="1083.5" cy="869.7" r="2.0"/>
<circle cx="1451.4" cy="753.7" r="2.0"/>
<circle cx="1512.4" cy="816.4" r="2.0"/>
<circle cx="1221.5" cy="890.8" r="2.0"/>
<circle cx="1095.3" cy="919.7" r="2.0"/>
<circle cx="1475.1" cy="925.1" r="2.0"/>
<circle cx="1096.4" cy="946.7" r="2.0"/>
<circle cx="1094.1" cy="961.9" r="2.0"/>
<circle cx="1109.3" cy="961.9" r="2.0"/>
<circle cx="1222.0" cy="961.9" r="2.0"/>
<circle cx="1441.5" cy="961.9" r="2.0"/>
<circle cx="1572.0" cy="659.8" r="2.0"/>
<circle cx="1587.3" cy="659.8" r="2.0"/>
<circle cx="1570.2" cy="683.8" r="2.0"/>
<circle cx="1887.9" cy="108.7" r="2.0"/>
<circle cx="1914.1" cy="108.2" r="2.0"/>
<circle cx="1904.9" cy="112.5" r="2.0"/>
<circle cx="1866.6" cy="110.7" r="2.0"/>
<circle cx="1865.0" cy="110.0" r="2.0"/>
<circle cx="1867.6" cy="107.7" r="2.0"/>
<circle cx="1896.0" cy="117.9" r="2.0"/>
<circle cx="1871.9" cy="108.9" r="2.0"/>
<circle cx="1912.2" cy="122.2" r="2.0"/>
<circle cx="1908.2" cy="113.2" r="2.0"/>
<circle cx="1940.1" cy="107.7" r="2.0"/>
<circle cx="1930.7" cy="111.6" r="2.0"/>
<circle cx="1873.5" cy="108.0" r="2.0"/>
<circle cx="1886.7" cy="116.3" r="2.0"/>
<circle cx="1876.5" cy="112.4" r="2.0"/>
<circle cx="1913.1" cy="113.0" r="2.0"/>
<circle cx="1905.8" cy="108.0" r="2.0"/>
<circle cx="1866.8" cy="108.5" r="2.0"/>
<circle cx="1916.4" cy="113.8" r="2.0"/>
<circle cx="1887.1" cy="113.7" r="2.0"/>
<circle cx="1898.3" cy="111.1" r="2.0"/>
<circle cx="1925.6" cy="118.2" r="2.0"/>
<circle cx="1881.5" cy="112.9" r="2.0"/>
<circle cx="1904.0" cy="120.0" r="2.0"/>
<circle cx="1920.4" cy="111.6" r="2.0"/>
<circle cx="1940.4" cy="108.9" r="2.0"/>
<circle cx="1895.4" cy="116.9" r="2.0"/>
<circle cx="1874.2" cy="111.3" r="2.0"/>
<circle cx="1865.1" cy="111.7" r="2.0"/>
<circle cx="1923.2" cy="116.2" r="2.0"/>
<circle cx="1932.0" cy="112.0" r="2.0"/>
<circle cx="1917.6" cy="116.5" r="2.0"/>
<circle cx="1908.4" cy="114.2" r="2.0"/>
<circle cx="1929.2" cy="122.1" r="2.0"/>
<circle cx="1899.9" cy="116.3" r="2.0"/>
<circle cx="1866.9" cy="112.2" r="2.0"/>
<circle cx="1913.8" cy="122.9" r="2.0"/>
<circle cx="1927.8" cy="111.6" r="2.0"/>
<circle cx="1892.9" cy="115.4" r="2.0"/>
<circle cx="1863.8" cy="110.1" r="2.0"/>
<circle cx="1875.4" cy="108.1" r="2.0"/>
<circle cx="1866.7" cy="112.6" r="2.0"/>
<circle cx="1872.3" cy="109.1" r="2.0"/>
<circle cx="1893.3" cy="118.0" r="2.0"/>
<circle cx="1868.4" cy="110.5" r="2.0"/>
<circle cx="1906.0" cy="120.4" r="2.0"/>
<circle cx="1927.5" cy="120.8" r="2.0"/>
<circle cx="1884.3" cy="111.5" r="2.0"/>
<circle cx="1890.7" cy="117.7" r="2.0"/>
<circle cx="1938.6" cy="109.4" r="2.0"/>
<circle cx="1876.1" cy="109.1" r="2.0"/>
<circle cx="1880.7" cy="111.9" r="2.0"/>
<circle cx="1909.1" cy="111.2" r="2.0"/>
<circle cx="1862.3" cy="109.7" r="2.0"/>
<circle cx="1891.5" cy="114.0" r="2.0"/>
<circle cx="1938.2" cy="118.0" r="2.0"/>
<circle cx="1903.2" cy="116.0" r="2.0"/>
<circle cx="1916.1" cy="107.9" r="2.0"/>
<circle cx="1934.0" cy="119.5" r="2.0"/>
<circle cx="1932.0" cy="119.8" r="2.0"/>
<circle cx="1893.4" cy="112.1" r="2.0"/>
<circle cx="1870.3" cy="112.1" r="2.0"/>
<circle cx="1867.0" cy="107.5" r="2.0"/>
<circle cx="1878.7" cy="108.6" r="2.0"/>
<circle cx="1889.2" cy="107.6" r="2.0"/>
<circle cx="1862.0" cy="108.0" r="2.0"/>
<circle cx="1870.1" cy="109.9" r="2.0"/>
<circle cx="1864.0" cy="113.0" r="2.0"/>
<circle cx="1911.1" cy="109.4" r="2.0"/>
<circle cx="1882.2" cy="110.6" r="2.0"/>
<circle cx="1870.1" cy="120.1" r="2.0"/>
<circle cx="1923.4" cy="134.9" r="2.0"/>
<circle cx="1881.3" cy="126.2" r="2.0"/>
<circle cx="1839.4" cy="119.7" r="2.0"/>
<circle cx="1867.7" cy="122.5" r="2.0"/>
<circle cx="1921.2" cy="120.7" r="2.0"/>
<circle cx="1832.5" cy="134.2" r="2.0"/>
<circle cx="1888.1" cy="120.5" r="2.0"/>
<circle cx="342.4" cy="105.9" r="2.0"/>
<circle cx="337.2" cy="107.1" r="2.0"/>
<circle cx="452.8" cy="106.7" r="2.0"/>
<circle cx="245.1" cy="106.3" r="2.0"/>
<circle cx="212.6" cy="106.8" r="2.0"/>
<circle cx="338.7" cy="106.8" r="2.0"/>
<circle cx="268.7" cy="106.2" r="2.0"/>
<circle cx="435.0" cy="107.1" r="2.0"/>
<circle cx="449.2" cy="106.9" r="2.0"/>
<circle cx="437.3" cy="106.8" r="2.0"/>
<circle cx="233.2" cy="106.5" r="2.0"/>
<circle cx="277.7" cy="105.9" r="2.0"/>
<circle cx="164.6" cy="106.2" r="2.0"/>
<circle cx="244.4" cy="106.7" r="2.0"/>
<circle cx="485.0" cy="106.4" r="2.0"/>
<circle cx="478.3" cy="107.1" r="2.0"/>
<circle cx="484.5" cy="106.3" r="2.0"/>
<circle cx="231.1" cy="106.2" r="2.0"/>
<circle cx="222.9" cy="106.1" r="2.0"/>
<circle cx="370.3" cy="107.0" r="2.0"/>
<circle cx="445.0" cy="106.5" r="2.0"/>
<circle cx="380.3" cy="106.9" r="2.0"/>
<circle cx="184.2" cy="106.7" r="2.0"/>
<circle cx="468.9" cy="106.8" r="2.0"/>
<circle cx="413.8" cy="106.5" r="2.0"/>
<circle cx="216.6" cy="106.8" r="2.0"/>
<circle cx="269.7" cy="106.9" r="2.0"/>
<circle cx="490.2" cy="106.4" r="2.0"/>
<circle cx="293.5" cy="107.0" r="2.0"/>
<circle cx="405.1" cy="106.1" r="2.0"/>
<circle cx="533.0" cy="106.1" r="2.0"/>
<circle cx="735.3" cy="106.9" r="2.0"/>
<circle cx="538.0" cy="106.9" r="2.0"/>
<circle cx="754.9" cy="106.7" r="2.0"/>
<circle cx="591.1" cy="106.6" r="2.0"/>
<circle cx="534.1" cy="105.9" r="2.0"/>
<circle cx="752.4" cy="106.7" r="2.0"/>
<circle cx="636.9" cy="107.0" r="2.0"/>
<circle cx="612.8" cy="106.9" r="2.0"/>
<circle cx="714.8" cy="106.2" r="2.0"/>
<circle cx="565.5" cy="106.3" r="2.0"/>
<circle cx="562.5" cy="106.6" r="2.0"/>
<circle cx="567.4" cy="106.4" r="2.0"/>
<circle cx="534.1" cy="107.0" r="2.0"/>
<circle cx="592.0" cy="106.4" r="2.0"/>
<circle cx="651.7" cy="107.0" r="2.0"/>
<circle cx="609.4" cy="107.0" r="2.0"/>
<circle cx="630.4" cy="106.5" r="2.0"/>
<circle cx="636.1" cy="105.9" r="2.0"/>
<circle cx="614.4" cy="106.1" r="2.0"/>
<circle cx="501.0" cy="106.9" r="2.0"/>
<circle cx="544.8" cy="106.5" r="2.0"/>
<circle cx="688.6" cy="106.6" r="2.0"/>
<circle cx="584.8" cy="106.5" r="2.0"/>
<circle cx="644.4" cy="106.8" r="2.0"/>
<circle cx="527.6" cy="106.6" r="2.0"/>
<circle cx="564.6" cy="106.2" r="2.0"/>
<circle cx="700.8" cy="106.5" r="2.0"/>
<circle cx="646.0" cy="106.8" r="2.0"/>
<circle cx="737.2" cy="106.4" r="2.0"/>
<circle cx="659.3" cy="106.5" r="2.0"/>
<circle cx="633.2" cy="106.7" r="2.0"/>
<circle cx="617.6" cy="106.5" r="2.0"/>
<circle cx="624.3" cy="107.0" r="2.0"/>
<circle cx="681.8" cy="107.0" r="2.0"/>
<circle cx="745.0" cy="106.2" r="2.0"/>
<circle cx="645.5" cy="107.0" r="2.0"/>
<circle cx="718.4" cy="106.1" r="2.0"/>
<circle cx="531.6" cy="106.4" r="2.0"/>
<circle cx="518.9" cy="106.2" r="2.0"/>
<circle cx="519.0" cy="106.7" r="2.0"/>
<circle cx="703.8" cy="107.0" r="2.0"/>
<circle cx="540.2" cy="106.8" r="2.0"/>
<circle cx="671.7" cy="106.1" r="2.0"/>
<circle cx="729.5" cy="107.1" r="2.0"/>
<circle cx="786.4" cy="107.0" r="2.0"/>
<circle cx="807.8" cy="106.5" r="2.0"/>
<circle cx="878.8" cy="106.9" r="2.0"/>
<circle cx="779.4" cy="106.4" r="2.0"/>
<circle cx="821.9" cy="106.3" r="2.0"/>
<circle cx="783.5" cy="106.3" r="2.0"/>
<circle cx="846.7" cy="105.9" r="2.0"/>
<circle cx="826.5" cy="106.4" r="2.0"/>
<circle cx="762.2" cy="106.3" r="2.0"/>
<circle cx="834.9" cy="106.5" r="2.0"/>
<circle cx="767.7" cy="107.1" r="2.0"/>
<circle cx="854.6" cy="107.1" r="2.0"/>
<circle cx="772.6" cy="106.2" r="2.0"/>
<circle cx="764.8" cy="106.8" r="2.0"/>
<circle cx="792.5" cy="106.1" r="2.0"/>
<circle cx="810.7" cy="107.0" r="2.0"/>
<circle cx="858.3" cy="106.2" r="2.0"/>
<circle cx="777.9" cy="107.0" r="2.0"/>
<circle cx="828.5" cy="106.7" r="2.0"/>
<circle cx="770.7" cy="106.0" r="2.0"/>
<circle cx="842.6" cy="106.4" r="2.0"/>
<circle cx="768.7" cy="107.0" r="2.0"/>
<circle cx="836.1" cy="106.9" r="2.0"/>
<circle cx="770.0" cy="106.9" r="2.0"/>
<circle cx="768.0" cy="106.9" r="2.0"/>
<circle cx="814.5" cy="106.3" r="2.0"/>
<circle cx="826.4" cy="107.0" r="2.0"/>
<circle cx="792.1" cy="106.1" r="2.0"/>
<circle cx="823.2" cy="106.2" r="2.0"/>
<circle cx="773.1" cy="106.1" r="2.0"/>
<circle cx="766.0" cy="106.1" r="2.0"/>
<circle cx="797.4" cy="106.3" r="2.0"/>
<circle cx="851.1" cy="106.2" r="2.0"/>
<circle cx="820.0" cy="106.1" r="2.0"/>
<circle cx="801.6" cy="105.9" r="2.0"/>
<circle cx="790.1" cy="105.9" r="2.0"/>
<circle cx="848.0" cy="106.6" r="2.0"/>
<circle cx="782.7" cy="106.5" r="2.0"/>
<circle cx="872.2" cy="106.0" r="2.0"/>
<circle cx="858.3" cy="106.4" r="2.0"/>
<circle cx="819.4" cy="106.9" r="2.0"/>
<circle cx="807.2" cy="106.5" r="2.0"/>
<circle cx="842.5" cy="107.1" r="2.0"/>
<circle cx="801.1" cy="106.9" r="2.0"/>
<circle cx="844.8" cy="106.7" r="2.0"/>
<circle cx="808.6" cy="106.3" r="2.0"/>
<circle cx="766.5" cy="106.1" r="2.0"/>
<circle cx="768.5" cy="106.8" r="2.0"/>
<circle cx="790.7" cy="106.1" r="2.0"/>
<circle cx="770.1" cy="106.9" r="2.0"/>
<circle cx="994.9" cy="106.7" r="2.0"/>
<circle cx="917.2" cy="106.2" r="2.0"/>
<circle cx="918.7" cy="106.5" r="2.0"/>
<circle cx="900.8" cy="106.4" r="2.0"/>
<circle cx="914.7" cy="107.1" r="2.0"/>
<circle cx="1008.4" cy="106.6" r="2.0"/>
<circle cx="912.3" cy="107.1" r="2.0"/>
<circle cx="920.9" cy="106.3" r="2.0"/>
<circle cx="880.1" cy="106.4" r="2.0"/>
<circle cx="942.7" cy="106.5" r="2.0"/>
<circle cx="906.5" cy="106.5" r="2.0"/>
<circle cx="880.7" cy="106.2" r="2.0"/>
<circle cx="891.8" cy="106.4" r="2.0"/>
<circle cx="885.5" cy="105.9" r="2.0"/>
<circle cx="920.2" cy="106.2" r="2.0"/>
<circle cx="957.3" cy="106.5" r="2.0"/>
<circle cx="979.1" cy="106.7" r="2.0"/>
<circle cx="974.5" cy="107.0" r="2.0"/>
<circle cx="931.4" cy="106.3" r="2.0"/>
<circle cx="1010.0" cy="106.1" r="2.0"/>
<circle cx="975.6" cy="106.7" r="2.0"/>
<circle cx="885.8" cy="106.9" r="2.0"/>
<circle cx="997.7" cy="106.7" r="2.0"/>
<circle cx="976.9" cy="106.9" r="2.0"/>
<circle cx="898.4" cy="106.5" r="2.0"/>
<circle cx="946.6" cy="106.9" r="2.0"/>
<circle cx="986.2" cy="106.9" r="2.0"/>
<circle cx="957.1" cy="107.0" r="2.0"/>
<circle cx="970.1" cy="106.7" r="2.0"/>
<circle cx="910.4" cy="105.9" r="2.0"/>
<circle cx="897.6" cy="106.3" r="2.0"/>
<circle cx="893.8" cy="106.9" r="2.0"/>
<circle cx="953.7" cy="106.7" r="2.0"/>
<circle cx="962.7" cy="106.7" r="2.0"/>
<circle cx="944.6" cy="105.9" r="2.0"/>
<circle cx="985.3" cy="106.8" r="2.0"/>
<circle cx="946.4" cy="106.5" r="2.0"/>
<circle cx="967.0" cy="106.0" r="2.0"/>
<circle cx="977.3" cy="106.2" r="2.0"/>
<circle cx="889.8" cy="106.2" r="2.0"/>
<circle cx="976.3" cy="106.1" r="2.0"/>
<circle cx="977.7" cy="107.1" r="2.0"/>
<circle cx="945.2" cy="106.4" r="2.0"/>
<circle cx="943.2" cy="106.7" r="2.0"/>
<circle cx="981.2" cy="106.6" r="2.0"/>
<circle cx="964.8" cy="106.0" r="2.0"/>
<circle cx="899.5" cy="106.2" r="2.0"/>
<circle cx="978.1" cy="106.3" r="2.0"/>
<circle cx="954.9" cy="105.9" r="2.0"/>
<circle cx="888.0" cy="106.2" r="2.0"/>
<circle cx="968.7" cy="106.7" r="2.0"/>
<circle cx="969.2" cy="106.2" r="2.0"/>
<circle cx="948.2" cy="106.5" r="2.0"/>
<circle cx="941.6" cy="106.0" r="2.0"/>
<circle cx="998.0" cy="106.1" r="2.0"/>
<circle cx="1009.1" cy="107.0" r="2.0"/>
<circle cx="882.3" cy="106.5" r="2.0"/>
<circle cx="988.2" cy="107.1" r="2.0"/>
<circle cx="939.3" cy="106.2" r="2.0"/>
<circle cx="907.7" cy="107.0" r="2.0"/>
<circle cx="907.8" cy="106.6" r="2.0"/>
<circle cx="898.7" cy="106.5" r="2.0"/>
<circle cx="1005.8" cy="106.1" r="2.0"/>
<circle cx="988.3" cy="106.5" r="2.0"/>
<circle cx="997.1" cy="106.7" r="2.0"/>
<circle cx="910.5" cy="107.0" r="2.0"/>
<circle cx="944.2" cy="105.9" r="2.0"/>
<circle cx="880.5" cy="106.5" r="2.0"/>
<circle cx="939.5" cy="106.3" r="2.0"/>
<circle cx="898.6" cy="106.3" r="2.0"/>
<circle cx="921.7" cy="106.9" r="2.0"/>
<circle cx="880.2" cy="106.8" r="2.0"/>
<circle cx="990.8" cy="106.0" r="2.0"/>
<circle cx="1002.3" cy="106.8" r="2.0"/>
<circle cx="999.0" cy="106.2" r="2.0"/>
<circle cx="929.1" cy="106.4" r="2.0"/>
<circle cx="1011.8" cy="106.6" r="2.0"/>
<circle cx="927.6" cy="106.4" r="2.0"/>
<circle cx="916.3" cy="106.0" r="2.0"/>
<circle cx="893.4" cy="106.9" r="2.0"/>
<circle cx="917.7" cy="107.0" r="2.0"/>
<circle cx="912.9" cy="106.2" r="2.0"/>
<circle cx="947.4" cy="106.1" r="2.0"/>
<circle cx="929.3" cy="107.0" r="2.0"/>
<circle cx="996.7" cy="106.9" r="2.0"/>
<circle cx="963.3" cy="107.0" r="2.0"/>
<circle cx="1004.2" cy="106.6" r="2.0"/>
<circle cx="975.0" cy="106.0" r="2.0"/>
<circle cx="976.7" cy="106.4" r="2.0"/>
<circle cx="979.4" cy="106.7" r="2.0"/>
<circle cx="917.8" cy="106.0" r="2.0"/>
<circle cx="1002.3" cy="106.1" r="2.0"/>
<circle cx="942.3" cy="106.3" r="2.0"/>
<circle cx="919.3" cy="106.8" r="2.0"/>
<circle cx="1008.9" cy="106.2" r="2.0"/>
<circle cx="966.6" cy="106.3" r="2.0"/>
<circle cx="953.6" cy="106.4" r="2.0"/>
<circle cx="902.1" cy="106.1" r="2.0"/>
<circle cx="907.4" cy="107.0" r="2.0"/>
<circle cx="945.6" cy="106.2" r="2.0"/>
<circle cx="999.6" cy="107.1" r="2.0"/>
<circle cx="939.4" cy="106.1" r="2.0"/>
<circle cx="905.4" cy="106.0" r="2.0"/>
<circle cx="925.1" cy="106.0" r="2.0"/>
<circle cx="911.6" cy="106.2" r="2.0"/>
<circle cx="955.2" cy="107.0" r="2.0"/>
<circle cx="979.0" cy="106.4" r="2.0"/>
<circle cx="934.6" cy="106.5" r="2.0"/>
<circle cx="929.7" cy="106.3" r="2.0"/>
<circle cx="888.2" cy="106.2" r="2.0"/>
<circle cx="1583.5" cy="106.1" r="2.0"/>
<circle cx="1346.7" cy="106.7" r="2.0"/>
<circle cx="1530.1" cy="106.2" r="2.0"/>
<circle cx="1228.2" cy="106.2" r="2.0"/>
<circle cx="1293.9" cy="106.4" r="2.0"/>
<circle cx="1576.5" cy="106.9" r="2.0"/>
<circle cx="1535.2" cy="105.9" r="2.0"/>
<circle cx="1106.4" cy="106.8" r="2.0"/>
<circle cx="1546.8" cy="106.5" r="2.0"/>
<circle cx="1389.5" cy="105.9" r="2.0"/>
<circle cx="1289.7" cy="107.0" r="2.0"/>
<circle cx="1511.1" cy="106.9" r="2.0"/>
<circle cx="1585.8" cy="106.2" r="2.0"/>
<circle cx="1145.6" cy="106.1" r="2.0"/>
<circle cx="1356.4" cy="106.7" r="2.0"/>
<circle cx="1570.2" cy="106.8" r="2.0"/>
<circle cx="1420.1" cy="106.8" r="2.0"/>
<circle cx="1323.2" cy="106.6" r="2.0"/>
<circle cx="1606.3" cy="106.8" r="2.0"/>
<circle cx="1637.2" cy="107.0" r="2.0"/>
<circle cx="1703.3" cy="106.3" r="2.0"/>
<circle cx="1620.5" cy="106.2" r="2.0"/>
<circle cx="1701.8" cy="106.7" r="2.0"/>
<circle cx="1617.9" cy="106.0" r="2.0"/>
<circle cx="1683.9" cy="106.6" r="2.0"/>
<circle cx="1662.1" cy="106.2" r="2.0"/>
<circle cx="1696.2" cy="105.9" r="2.0"/>
<circle cx="1648.2" cy="106.5" r="2.0"/>
<circle cx="1753.4" cy="106.7" r="2.0"/>
<circle cx="1741.4" cy="106.5" r="2.0"/>
<circle cx="1637.6" cy="106.2" r="2.0"/>
<circle cx="1753.7" cy="106.7" r="2.0"/>
<circle cx="1649.2" cy="105.9" r="2.0"/>
<circle cx="1679.7" cy="106.7" r="2.0"/>
<circle cx="1667.2" cy="106.2" r="2.0"/>
<circle cx="1706.8" cy="107.0" r="2.0"/>
<circle cx="1636.3" cy="105.9" r="2.0"/>
<circle cx="1654.1" cy="106.4" r="2.0"/>
<circle cx="1709.2" cy="106.1" r="2.0"/>
<circle cx="1727.5" cy="106.8" r="2.0"/>
<circle cx="1680.8" cy="106.1" r="2.0"/>
<circle cx="1755.2" cy="106.3" r="2.0"/>
<circle cx="1731.2" cy="106.2" r="2.0"/>
<circle cx="1635.4" cy="106.8" r="2.0"/>
<circle cx="1647.2" cy="107.0" r="2.0"/>
<circle cx="1679.3" cy="106.1" r="2.0"/>
<circle cx="1635.7" cy="106.4" r="2.0"/>
<circle cx="1706.4" cy="107.0" r="2.0"/>
<circle cx="1623.4" cy="106.4" r="2.0"/>
<circle cx="1634.1" cy="107.1" r="2.0"/>
<circle cx="1622.7" cy="106.0" r="2.0"/>
<circle cx="1609.6" cy="106.4" r="2.0"/>
<circle cx="1743.7" cy="107.0" r="2.0"/>
<circle cx="1833.3" cy="107.1" r="2.0"/>
<circle cx="1853.2" cy="106.3" r="2.0"/>
<circle cx="1778.6" cy="107.0" r="2.0"/>
<circle cx="1834.6" cy="105.9" r="2.0"/>
<circle cx="1826.4" cy="106.4" r="2.0"/>
<circle cx="1797.4" cy="106.3" r="2.0"/>
<circle cx="1776.9" cy="105.9" r="2.0"/>
<circle cx="1788.0" cy="106.3" r="2.0"/>
<circle cx="1855.6" cy="106.0" r="2.0"/>
<circle cx="1856.4" cy="106.1" r="2.0"/>
<circle cx="1795.7" cy="106.9" r="2.0"/>
<circle cx="1842.2" cy="106.4" r="2.0"/>
<circle cx="1764.9" cy="106.5" r="2.0"/>
<circle cx="1797.3" cy="107.0" r="2.0"/>
<circle cx="1779.3" cy="106.3" r="2.0"/>
<circle cx="1849.7" cy="105.9" r="2.0"/>
<circle cx="1801.1" cy="106.9" r="2.0"/>
<circle cx="1836.7" cy="105.9" r="2.0"/>
<circle cx="1763.5" cy="106.0" r="2.0"/>
<circle cx="1852.0" cy="106.2" r="2.0"/>
<circle cx="1834.7" cy="107.0" r="2.0"/>
<circle cx="1793.9" cy="106.2" r="2.0"/>
<circle cx="1855.8" cy="106.6" r="2.0"/>
<circle cx="1786.2" cy="106.8" r="2.0"/>
<circle cx="1791.6" cy="106.2" r="2.0"/>
<circle cx="1760.4" cy="106.8" r="2.0"/>
<circle cx="1851.6" cy="106.7" r="2.0"/>
<circle cx="1854.3" cy="105.9" r="2.0"/>
<circle cx="1783.4" cy="106.5" r="2.0"/>
<circle cx="1855.7" cy="107.0" r="2.0"/>
<circle cx="1798.7" cy="106.2" r="2.0"/>
<circle cx="1803.0" cy="106.5" r="2.0"/>
<circle cx="1852.8" cy="106.1" r="2.0"/>
<circle cx="1840.3" cy="106.8" r="2.0"/>
<circle cx="1842.3" cy="106.8" r="2.0"/>
<circle cx="1820.7" cy="106.3" r="2.0"/>
<circle cx="1792.0" cy="106.3" r="2.0"/>
<circle cx="1838.2" cy="106.0" r="2.0"/>
<circle cx="1779.7" cy="106.8" r="2.0"/>
<circle cx="1784.7" cy="106.0" r="2.0"/>
<circle cx="1763.4" cy="106.6" r="2.0"/>
<circle cx="1792.6" cy="107.1" r="2.0"/>
<circle cx="1848.3" cy="107.1" r="2.0"/>
<circle cx="1786.5" cy="106.0" r="2.0"/>
<circle cx="1769.6" cy="106.5" r="2.0"/>
<circle cx="1831.0" cy="106.4" r="2.0"/>
<circle cx="1783.4" cy="106.4" r="2.0"/>
<circle cx="1822.0" cy="106.7" r="2.0"/>
<circle cx="1834.8" cy="106.9" r="2.0"/>
<circle cx="1826.4" cy="106.0" r="2.0"/>
<circle cx="1844.1" cy="106.3" r="2.0"/>
<circle cx="1816.7" cy="106.3" r="2.0"/>
<circle cx="1833.8" cy="106.1" r="2.0"/>
<circle cx="1784.7" cy="106.2" r="2.0"/>
<circle cx="1775.3" cy="107.0" r="2.0"/>
<circle cx="1817.8" cy="106.3" r="2.0"/>
<circle cx="1799.6" cy="107.1" r="2.0"/>
<circle cx="1810.7" cy="106.2" r="2.0"/>
<circle cx="1840.8" cy="106.7" r="2.0"/>
<circle cx="1859.1" cy="106.0" r="2.0"/>
<circle cx="1899.4" cy="106.9" r="2.0"/>
<circle cx="1929.8" cy="107.0" r="2.0"/>
<circle cx="1863.4" cy="106.3" r="2.0"/>
<circle cx="1869.9" cy="106.1" r="2.0"/>
<circle cx="1940.8" cy="106.6" r="2.0"/>
<circle cx="1937.2" cy="106.3" r="2.0"/>
<circle cx="1931.9" cy="106.4" r="2.0"/>
<circle cx="1881.6" cy="106.8" r="2.0"/>
<circle cx="1938.5" cy="106.0" r="2.0"/>
<circle cx="1909.5" cy="106.6" r="2.0"/>
<circle cx="1878.1" cy="106.3" r="2.0"/>
<circle cx="1871.7" cy="106.1" r="2.0"/>
<circle cx="1881.2" cy="106.6" r="2.0"/>
<circle cx="1914.1" cy="106.1" r="2.0"/>
<circle cx="1860.9" cy="106.3" r="2.0"/>
<circle cx="1916.3" cy="106.1" r="2.0"/>
<circle cx="1885.9" cy="106.1" r="2.0"/>
<circle cx="1926.0" cy="106.6" r="2.0"/>
<circle cx="1865.3" cy="106.0" r="2.0"/>
<circle cx="1892.8" cy="106.6" r="2.0"/>
<circle cx="1913.1" cy="106.0" r="2.0"/>
<circle cx="1873.6" cy="106.7" r="2.0"/>
<circle cx="1894.0" cy="106.2" r="2.0"/>
<circle cx="1885.5" cy="107.0" r="2.0"/>
<circle cx="1885.9" cy="106.6" r="2.0"/>
<circle cx="1889.6" cy="106.4" r="2.0"/>
<circle cx="1931.7" cy="107.1" r="2.0"/>
<circle cx="1890.2" cy="106.1" r="2.0"/>
<circle cx="1920.4" cy="106.1" r="2.0"/>
<circle cx="1860.5" cy="107.0" r="2.0"/>
<circle cx="1895.2" cy="106.9" r="2.0"/>
<circle cx="1893.7" cy="107.0" r="2.0"/>
<circle cx="1898.3" cy="106.1" r="2.0"/>
<circle cx="1861.2" cy="106.6" r="2.0"/>
<circle cx="1913.2" cy="107.0" r="2.0"/>
<circle cx="1867.4" cy="106.6" r="2.0"/>
<circle cx="1890.8" cy="106.5" r="2.0"/>
<circle cx="1872.1" cy="106.2" r="2.0"/>
<circle cx="1903.3" cy="107.0" r="2.0"/>
<circle cx="1869.0" cy="106.5" r="2.0"/>
<circle cx="1926.8" cy="107.1" r="2.0"/>
<circle cx="1876.4" cy="106.1" r="2.0"/>
<circle cx="1938.3" cy="107.1" r="2.0"/>
<circle cx="1900.1" cy="106.0" r="2.0"/>
<circle cx="1936.9" cy="106.4" r="2.0"/>
<circle cx="1935.1" cy="106.6" r="2.0"/>
<circle cx="1928.4" cy="106.1" r="2.0"/>
<circle cx="1925.2" cy="106.2" r="2.0"/>
<circle cx="1893.6" cy="106.9" r="2.0"/>
<circle cx="1928.8" cy="106.1" r="2.0"/>
<circle cx="1878.1" cy="106.4" r="2.0"/>
<circle cx="1903.0" cy="106.4" r="2.0"/>
<circle cx="1870.2" cy="106.2" r="2.0"/>
<circle cx="1920.2" cy="107.0" r="2.0"/>
<circle cx="1863.4" cy="106.6" r="2.0"/>
<circle cx="1922.9" cy="105.9" r="2.0"/>
<circle cx="1929.6" cy="106.0" r="2.0"/>
<circle cx="1909.8" cy="106.6" r="2.0"/>
<circle cx="1912.0" cy="106.3" r="2.0"/>
<circle cx="1894.9" cy="106.6" r="2.0"/>
<circle cx="1895.3" cy="106.7" r="2.0"/>
<circle cx="1897.1" cy="106.4" r="2.0"/>
<circle cx="1861.9" cy="106.6" r="2.0"/>
<circle cx="1900.6" cy="106.2" r="2.0"/>
<circle cx="1923.4" cy="106.8" r="2.0"/>
<circle cx="1898.0" cy="106.1" r="2.0"/>
<circle cx="1899.3" cy="106.0" r="2.0"/>
<circle cx="1870.7" cy="106.4" r="2.0"/>
<circle cx="1867.6" cy="106.4" r="2.0"/>
<circle cx="1902.3" cy="105.9" r="2.0"/>
<circle cx="1912.8" cy="106.0" r="2.0"/>
<circle cx="1920.9" cy="106.8" r="2.0"/>
<circle cx="1902.5" cy="106.0" r="2.0"/>
<circle cx="1901.8" cy="106.4" r="2.0"/>
<circle cx="1938.9" cy="106.1" r="2.0"/>
<circle cx="1931.1" cy="107.1" r="2.0"/>
<circle cx="1920.8" cy="106.9" r="2.0"/>
<circle cx="1876.1" cy="107.1" r="2.0"/>
<circle cx="1900.8" cy="107.0" r="2.0"/>
<circle cx="1936.0" cy="106.1" r="2.0"/>
<circle cx="1925.4" cy="107.0" r="2.0"/>
<circle cx="1865.4" cy="106.3" r="2.0"/>
<circle cx="1922.8" cy="106.1" r="2.0"/>
<circle cx="1934.4" cy="106.2" r="2.0"/>
<circle cx="1927.7" cy="106.1" r="2.0"/>
<circle cx="1901.7" cy="107.0" r="2.0"/>
<circle cx="1877.3" cy="106.2" r="2.0"/>
<circle cx="1902.0" cy="106.3" r="2.0"/>
<circle cx="1863.1" cy="106.1" r="2.0"/>
<circle cx="1873.4" cy="107.0" r="2.0"/>
<circle cx="1916.4" cy="107.0" r="2.0"/>
<circle cx="1874.0" cy="106.8" r="2.0"/>
<circle cx="1869.6" cy="106.5" r="2.0"/>
<circle cx="1912.8" cy="106.3" r="2.0"/>
<circle cx="1932.5" cy="106.6" r="2.0"/>
<circle cx="1908.1" cy="107.0" r="2.0"/>
<circle cx="1868.7" cy="107.1" r="2.0"/>
<circle cx="1912.3" cy="106.4" r="2.0"/>
<circle cx="1926.2" cy="106.2" r="2.0"/>
<circle cx="1942.2" cy="106.6" r="2.0"/>
<circle cx="1889.9" cy="106.8" r="2.0"/>
<circle cx="1896.7" cy="106.1" r="2.0"/>
<circle cx="1921.7" cy="106.0" r="2.0"/>
<circle cx="1928.0" cy="106.2" r="2.0"/>
<circle cx="1913.1" cy="107.1" r="2.0"/>
<circle cx="1908.6" cy="106.7" r="2.0"/>
<circle cx="1885.9" cy="105.9" r="2.0"/>
<circle cx="1862.8" cy="106.1" r="2.0"/>
<circle cx="1911.1" cy="106.4" r="2.0"/>
<circle cx="1902.6" cy="107.0" r="2.0"/>
<circle cx="1871.0" cy="106.2" r="2.0"/>
<circle cx="1914.2" cy="105.9" r="2.0"/>
<circle cx="1860.2" cy="106.3" r="2.0"/>
<circle cx="1868.8" cy="106.3" r="2.0"/>
<circle cx="1878.6" cy="106.6" r="2.0"/>
<circle cx="1908.9" cy="106.1" r="2.0"/>
<circle cx="1911.8" cy="106.5" r="2.0"/>
<circle cx="1871.2" cy="107.0" r="2.0"/>
<circle cx="1880.2" cy="106.1" r="2.0"/>
<circle cx="1868.0" cy="106.7" r="2.0"/>
<circle cx="1932.3" cy="106.8" r="2.0"/>
<circle cx="1893.4" cy="106.2" r="2.0"/>
<circle cx="1861.0" cy="106.7" r="2.0"/>
<circle cx="1906.7" cy="106.3" r="2.0"/>
<circle cx="1913.6" cy="106.4" r="2.0"/>
<circle cx="1937.8" cy="106.8" r="2.0"/>
<circle cx="1880.6" cy="107.0" r="2.0"/>
<circle cx="1863.7" cy="106.5" r="2.0"/>
<circle cx="1893.7" cy="106.2" r="2.0"/>
<circle cx="1864.8" cy="106.8" r="2.0"/>
<circle cx="1861.0" cy="106.6" r="2.0"/>
<circle cx="1938.1" cy="106.1" r="2.0"/>
<circle cx="1876.6" cy="106.6" r="2.0"/>
<circle cx="1902.1" cy="106.7" r="2.0"/>
<circle cx="1927.5" cy="106.1" r="2.0"/>
<circle cx="1885.7" cy="106.3" r="2.0"/>
<circle cx="1864.0" cy="107.0" r="2.0"/>
<circle cx="1925.0" cy="106.8" r="2.0"/>
<circle cx="1860.5" cy="106.9" r="2.0"/>
<circle cx="1921.9" cy="106.5" r="2.0"/>
</g>
<circle cx="153.4" cy="964.0" r="2.5" fill="#000"/>
<circle cx="1084.6" cy="964.0" r="2.5" fill="#000"/>
<circle cx="1011.8" cy="106.2" r="2.5" fill="#000"/>
<circle cx="1942.8" cy="106.2" r="2.5" fill="#000"/>
<rect x="576.3" y="108.5" width="3.6" height="850.5" fill="#f1f1f1"/>
<rect x="159.3" y="540.2" width="851" height="3.8" fill="#f1f1f1"/>
<rect x="1514.7" y="112.5" width="3.5" height="849" fill="#f1f1f1"/>
<rect x="1090.5" y="538.7" width="850" height="3.7" fill="#f1f1f1"/>
<text x="92.6" y="24.8" font-size="34.5" text-anchor="start" font-weight="bold" fill="#000" >a</text>
<text x="1043.5" y="27.3" font-size="34.5" text-anchor="start" font-weight="bold" fill="#000" >b</text>
<text x="436" y="56" font-size="36" font-weight="bold" fill="#000">Intensity: 10<tspan font-size="24" dy="-15">4</tspan><tspan dy="15">-10</tspan><tspan font-size="24" dy="-15">5</tspan></text>
<text x="1390" y="56.3" font-size="36" font-weight="bold" fill="#000">Intensity: &gt;10<tspan font-size="24" dy="-15">5</tspan></text>
<rect x="189.5" y="73" width="786.5" height="2.8" fill="#787878"/>
<rect x="1126" y="73" width="786.5" height="2.8" fill="#787878"/>
<text x="0.0" y="0.0" font-size="23.0" text-anchor="end" font-weight="normal" fill="#3a3a3a" transform="translate(117.8,123.1) scale(1.130,1)">1.00</text>
<text x="0.0" y="0.0" font-size="23.0" text-anchor="end" font-weight="normal" fill="#3a3a3a" transform="translate(117.8,336.6) scale(1.130,1)">0.75</text>
<text x="0.0" y="0.0" font-size="23.0" text-anchor="end" font-weight="normal" fill="#3a3a3a" transform="translate(117.8,549.1) scale(1.130,1)">0.50</text>
<text x="0.0" y="0.0" font-size="23.0" text-anchor="end" font-weight="normal" fill="#3a3a3a" transform="translate(117.8,762.1) scale(1.130,1)">0.25</text>
<text x="0.0" y="0.0" font-size="23.0" text-anchor="end" font-weight="normal" fill="#3a3a3a" transform="translate(117.8,974.1) scale(1.130,1)">0.00</text>
<text x="0.0" y="0.0" font-size="23.0" text-anchor="middle" font-weight="normal" fill="#3a3a3a" transform="translate(153.8,1008.4) scale(1.130,1)">0.00</text>
<text x="0.0" y="0.0" font-size="23.0" text-anchor="middle" font-weight="normal" fill="#3a3a3a" transform="translate(366.1,1008.4) scale(1.130,1)">0.25</text>
<text x="0.0" y="0.0" font-size="23.0" text-anchor="middle" font-weight="normal" fill="#3a3a3a" transform="translate(578.7,1008.4) scale(1.130,1)">0.50</text>
<text x="0.0" y="0.0" font-size="23.0" text-anchor="middle" font-weight="normal" fill="#3a3a3a" transform="translate(792.1,1008.4) scale(1.130,1)">0.75</text>
<text x="0.0" y="0.0" font-size="23.0" text-anchor="middle" font-weight="normal" fill="#3a3a3a" transform="translate(1004.9,1008.4) scale(1.130,1)">1.00</text>
<text x="0.0" y="0.0" font-size="23.0" text-anchor="middle" font-weight="normal" fill="#3a3a3a" transform="translate(1092.7,1008.4) scale(1.130,1)">0.00</text>
<text x="0.0" y="0.0" font-size="23.0" text-anchor="middle" font-weight="normal" fill="#3a3a3a" transform="translate(1305.5,1008.4) scale(1.130,1)">0.25</text>
<text x="0.0" y="0.0" font-size="23.0" text-anchor="middle" font-weight="normal" fill="#3a3a3a" transform="translate(1518.0,1008.4) scale(1.130,1)">0.50</text>
<text x="0.0" y="0.0" font-size="23.0" text-anchor="middle" font-weight="normal" fill="#3a3a3a" transform="translate(1730.5,1008.4) scale(1.130,1)">0.75</text>
<text x="0.0" y="0.0" font-size="23.0" text-anchor="middle" font-weight="normal" fill="#3a3a3a" transform="translate(1943.0,1008.4) scale(1.130,1)">1.00</text>
<text x="578.9" y="1062.5" font-size="33.0" text-anchor="middle" font-weight="normal" fill="#000" >FrC</text>
<text x="1517.9" y="1062.5" font-size="33.0" text-anchor="middle" font-weight="normal" fill="#000" >FrC</text>
<text x="0.0" y="0.0" font-size="32.8" text-anchor="middle" font-weight="normal" fill="#000" transform="translate(23.9,537.6) rotate(-90)">MIRS</text>
<text x="370.0" y="333.0" font-size="30.4" text-anchor="middle" font-weight="normal" fill="#fff" >68 entries</text>
<text x="370.0" y="371.1" font-size="30.4" text-anchor="middle" font-weight="normal" fill="#fff" >7.8 %</text>
<text x="784.7" y="332.5" font-size="30.4" text-anchor="middle" font-weight="normal" fill="#000" >484 entries</text>
<text x="784.7" y="370.6" font-size="30.4" text-anchor="middle" font-weight="normal" fill="#000" >55.6 %</text>
<text x="370.0" y="748.5" font-size="30.4" text-anchor="middle" font-weight="normal" fill="#fff" >310 entries</text>
<text x="370.0" y="786.6" font-size="30.4" text-anchor="middle" font-weight="normal" fill="#fff" >35.6 %</text>
<text x="785.5" y="748.6" font-size="30.4" text-anchor="middle" font-weight="normal" fill="#fff" >9 entries</text>
<text x="785.5" y="786.7" font-size="30.4" text-anchor="middle" font-weight="normal" fill="#fff" >1.0 %</text>
<text x="1308.2" y="331.2" font-size="30.4" text-anchor="middle" font-weight="normal" fill="#fff" >8 entries</text>
<text x="1308.2" y="369.3" font-size="30.4" text-anchor="middle" font-weight="normal" fill="#fff" >2.1 %</text>
<text x="1723.2" y="331.3" font-size="30.4" text-anchor="middle" font-weight="normal" fill="#fff" >309 entries</text>
<text x="1723.2" y="369.4" font-size="30.4" text-anchor="middle" font-weight="normal" fill="#fff" >81.3 %</text>
<text x="1308.0" y="747.0" font-size="30.4" text-anchor="middle" font-weight="normal" fill="#fff" >60 entries</text>
<text x="1308.0" y="785.1" font-size="30.4" text-anchor="middle" font-weight="normal" fill="#fff" >15.8 %</text>
<text x="1724.0" y="747.0" font-size="30.4" text-anchor="middle" font-weight="normal" fill="#fff" >3 entries</text>
<text x="1724.0" y="785.1" font-size="30.4" text-anchor="middle" font-weight="normal" fill="#fff" >0.8%</text>
<text x="2063.6" y="218.1" font-size="26.0" text-anchor="middle" font-weight="bold" fill="#000" >Relative</text>
<text x="2063.6" y="247.6" font-size="26.0" text-anchor="middle" font-weight="bold" fill="#000" >density</text>
<rect x="2014.7" y="283.3" width="52.2" height="51.5" fill="#954c62"/>
<rect x="2014.7" y="339.8" width="52.2" height="51.5" fill="#c95d6b"/>
<rect x="2014.7" y="396.3" width="52.2" height="51.5" fill="#e29082"/>
<rect x="2014.7" y="452.8" width="52.2" height="51.5" fill="#f7c0a8"/>
<rect x="2014.7" y="509.3" width="52.2" height="51.5" fill="#fee6d8"/>
<rect x="2014.7" y="565.8" width="52.2" height="51.5" fill="#e9e9e9"/>
<rect x="2014.7" y="622.3" width="52.2" height="51.5" fill="#cfcfcf"/>
<rect x="2014.7" y="678.8" width="52.2" height="51.5" fill="#ababab"/>
<rect x="2014.7" y="735.3" width="52.2" height="51.5" fill="#828282"/>
<rect x="2014.7" y="791.8" width="52.2" height="51.5" fill="#5f5f5f"/>
<line x1="2103.8" y1="831.2" x2="2103.8" y2="330" stroke="#000" stroke-width="3.6" stroke-linecap="round"/>
<path d="M2103.8,314.4 L2096.6,339 L2103.8,334 L2111,339 Z" fill="#000" stroke="#000" stroke-width="1" stroke-linejoin="round"/>
<rect x="434" y="1873" width="1256" height="2.2" fill="#e3e3e3"/>
<rect x="490.50" y="1695.96" width="38.38" height="178.04" fill="#6f80a9"/>
<rect x="528.58" y="1347.61" width="38.38" height="526.39" fill="#6f80a9"/>
<rect x="566.66" y="1200.53" width="38.38" height="673.47" fill="#6f80a9"/>
<rect x="604.74" y="1324.39" width="38.38" height="549.61" fill="#6f80a9"/>
<rect x="642.82" y="1270.20" width="38.38" height="603.80" fill="#6f80a9"/>
<rect x="680.90" y="1417.28" width="38.38" height="456.72" fill="#6f80a9"/>
<rect x="718.98" y="1355.35" width="38.38" height="518.65" fill="#6f80a9"/>
<rect x="757.06" y="1425.02" width="38.38" height="448.98" fill="#6f80a9"/>
<rect x="795.14" y="1572.10" width="38.38" height="301.90" fill="#6f80a9"/>
<rect x="833.22" y="1603.07" width="38.38" height="270.94" fill="#6f80a9"/>
<rect x="871.30" y="1603.07" width="38.38" height="270.94" fill="#6f80a9"/>
<rect x="909.38" y="1634.03" width="38.38" height="239.97" fill="#6f80a9"/>
<rect x="947.46" y="1757.88" width="38.38" height="116.11" fill="#6f80a9"/>
<rect x="985.54" y="1688.22" width="38.38" height="185.78" fill="#6f80a9"/>
<rect x="528.58" y="1843.04" width="38.38" height="30.96" fill="url(#hatch)"/>
<rect x="566.66" y="1734.66" width="38.38" height="139.34" fill="url(#hatch)"/>
<rect x="604.74" y="1664.99" width="38.38" height="209.01" fill="url(#hatch)"/>
<rect x="642.82" y="1486.95" width="38.38" height="387.05" fill="url(#hatch)"/>
<rect x="680.90" y="1541.14" width="38.38" height="332.86" fill="url(#hatch)"/>
<rect x="718.98" y="1517.91" width="38.38" height="356.09" fill="url(#hatch)"/>
<rect x="757.06" y="1502.43" width="38.38" height="371.57" fill="url(#hatch)"/>
<rect x="795.14" y="1618.55" width="38.38" height="255.45" fill="url(#hatch)"/>
<rect x="833.22" y="1649.51" width="38.38" height="224.49" fill="url(#hatch)"/>
<rect x="871.30" y="1634.03" width="38.38" height="239.97" fill="url(#hatch)"/>
<rect x="909.38" y="1657.25" width="38.38" height="216.75" fill="url(#hatch)"/>
<rect x="947.46" y="1773.37" width="38.38" height="100.63" fill="url(#hatch)"/>
<rect x="985.54" y="1703.70" width="38.38" height="170.30" fill="url(#hatch)"/>
<rect x="1023.62" y="1750.14" width="38.38" height="123.86" fill="url(#hatch)"/>
<rect x="1061.70" y="1757.88" width="38.38" height="116.11" fill="url(#hatch)"/>
<rect x="1099.78" y="1773.37" width="38.38" height="100.63" fill="url(#hatch)"/>
<rect x="1137.86" y="1788.85" width="38.38" height="85.15" fill="url(#hatch)"/>
<rect x="1175.94" y="1819.81" width="38.38" height="54.19" fill="url(#hatch)"/>
<rect x="1214.02" y="1773.37" width="38.38" height="100.63" fill="url(#hatch)"/>
<rect x="1252.10" y="1819.81" width="38.38" height="54.19" fill="url(#hatch)"/>
<rect x="1290.18" y="1827.55" width="38.38" height="46.45" fill="url(#hatch)"/>
<rect x="1328.26" y="1858.52" width="38.38" height="15.48" fill="url(#hatch)"/>
<rect x="1366.34" y="1850.78" width="38.38" height="23.22" fill="url(#hatch)"/>
<rect x="1404.42" y="1843.04" width="38.38" height="30.96" fill="url(#hatch)"/>
<rect x="1442.50" y="1858.52" width="38.38" height="15.48" fill="url(#hatch)"/>
<rect x="1480.58" y="1858.52" width="38.38" height="15.48" fill="url(#hatch)"/>
<rect x="1594.82" y="1858.52" width="38.38" height="15.48" fill="url(#hatch)"/>
<text x="0.0" y="0.0" font-size="21.5" text-anchor="end" font-weight="normal" fill="#444" transform="translate(419.6,1881.9) scale(1.1,1)">0</text>
<text x="0.0" y="0.0" font-size="21.5" text-anchor="end" font-weight="normal" fill="#444" transform="translate(419.6,1689.6) scale(1.1,1)">25</text>
<text x="0.0" y="0.0" font-size="21.5" text-anchor="end" font-weight="normal" fill="#444" transform="translate(419.6,1495.6) scale(1.1,1)">50</text>
<text x="0.0" y="0.0" font-size="21.5" text-anchor="end" font-weight="normal" fill="#444" transform="translate(419.6,1301.3) scale(1.1,1)">75</text>
<text x="0.0" y="0.0" font-size="29.5" text-anchor="middle" font-weight="normal" fill="#000" transform="translate(353.4,1548) rotate(-90)">IL entries</text>
<text x="489.7" y="1924" font-size="31" fill="#000">10<tspan font-size="20.5" dy="-14">4</tspan></text>
<text x="747.7" y="1924" font-size="31" fill="#000">10<tspan font-size="20.5" dy="-14">5</tspan></text>
<text x="1006.0" y="1924" font-size="31" fill="#000">10<tspan font-size="20.5" dy="-14">6</tspan></text>
<text x="1263.5" y="1924" font-size="31" fill="#000">10<tspan font-size="20.5" dy="-14">7</tspan></text>
<text x="1521.7" y="1924" font-size="31" fill="#000">10<tspan font-size="20.5" dy="-14">8</tspan></text>
<text x="1069.9" y="1984.2" font-size="29.5" text-anchor="middle" font-weight="normal" fill="#000" >Precursor Intensity</text>
<text x="333.0" y="1165.0" font-size="35.0" text-anchor="start" font-weight="bold" fill="#000" >c</text>
<rect x="1109.5" y="1235.5" width="222" height="217.4" fill="#cecece"/>
<rect x="1223.5" y="1235.5" width="108" height="106.8" fill="#4c4c4c"/>
<rect x="1221" y="1235.5" width="3.2" height="217.4" fill="#000"/>
<rect x="1109.5" y="1340.8" width="222" height="3.2" fill="#000"/>
<text x="1275.5" y="1299.0" font-size="26.0" text-anchor="middle" font-weight="normal" fill="#fff" >793</text>
<text x="0.0" y="0.0" font-size="25.3" text-anchor="middle" font-weight="normal" fill="#000" transform="translate(1091.7,1345.4) rotate(-90)">MIRS</text>
<text x="1221.8" y="1485.2" font-size="24.0" text-anchor="middle" font-weight="normal" fill="#000" >FrC</text>
<rect x="1484.6" y="1426.4" width="38" height="37.4" fill="#6f80a9"/>
<rect x="1484.6" y="1498" width="38" height="37.5" fill="url(#hatchleg)"/>
<text x="1549.3" y="1456.1" font-size="30.7" text-anchor="start" font-weight="normal" fill="#000" >HERMES</text>
<text x="1549.8" y="1528.3" font-size="30.7" text-anchor="start" font-weight="normal" fill="#000" >Iterative DDA</text>
</svg></body></html>
